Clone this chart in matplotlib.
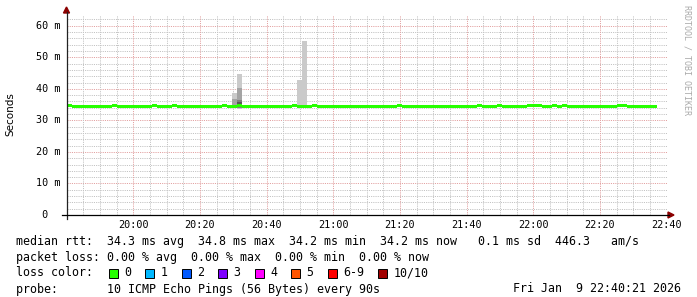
import numpy as np
import matplotlib.pyplot as plt
from matplotlib.patches import Rectangle, Polygon
from matplotlib.lines import Line2D
from matplotlib.transforms import blended_transform_factory

# --- data (ms, 90 s steps starting 19:40) ---
median = [
    34.8, 34.3, 34.3, 34.3, 34.3, 34.3, 34.3, 34.3, 34.3, 34.8,
    34.3, 34.3, 34.3, 34.3, 34.3, 34.3, 34.3, 34.8, 34.3, 34.3,
    34.3, 34.8, 34.3, 34.3, 34.3, 34.3, 34.3, 34.3, 34.3, 34.3,
    34.3, 34.8, 34.3, 34.3, 34.8, 34.3, 34.3, 34.3, 34.3, 34.3,
    34.3, 34.3, 34.3, 34.3, 34.3, 34.8, 34.3, 34.3, 34.3, 34.8,
    34.3, 34.3, 34.3, 34.3, 34.3, 34.3, 34.3, 34.3, 34.3, 34.3,
    34.3, 34.3, 34.3, 34.3, 34.3, 34.3, 34.8, 34.3, 34.3, 34.3,
    34.3, 34.3, 34.3, 34.3, 34.3, 34.3, 34.3, 34.3, 34.3, 34.3,
    34.3, 34.3, 34.8, 34.3, 34.3, 34.3, 34.8, 34.3, 34.3, 34.3,
    34.3, 34.3, 34.8, 34.8, 34.8, 34.3, 34.3, 34.8, 34.3, 34.8,
    34.3, 34.3, 34.3, 34.3, 34.3, 34.3, 34.3, 34.3, 34.3, 34.3,
    34.8, 34.8, 34.3, 34.3, 34.3, 34.3, 34.3, 34.3,
]

# sorted ping values (10 pings) for steps that show smoke
smoke_idx = [7, 28, 29, 33, 34, 46, 47, 69, 72, 84, 96]
smoke_pings = [
    [34.2, 34.2, 34.3, 34.3, 34.3, 34.3, 34.3, 34.3, 34.4, 34.9],
    [34.2, 34.2, 34.3, 34.3, 34.3, 34.3, 34.3, 34.3, 34.4, 34.9],
    [34.2, 34.2, 34.3, 34.3, 34.3, 34.3, 34.3, 34.3, 34.4, 34.9],
    [33.9, 34.0, 34.2, 34.3, 34.3, 34.3, 34.5, 35.0, 36.7, 38.8],
    [33.6, 33.8, 34.0, 34.2, 34.3, 35.3, 35.8, 36.5, 40.2, 44.7],
    [34.1, 34.2, 34.2, 34.3, 34.3, 34.3, 34.3, 34.4, 34.4, 42.8],
    [34.1, 34.2, 34.2, 34.3, 34.3, 34.3, 34.3, 34.4, 34.5, 55.2],
    [34.2, 34.2, 34.3, 34.3, 34.3, 34.3, 34.3, 34.3, 34.4, 34.9],
    [34.2, 34.2, 34.3, 34.3, 34.3, 34.3, 34.3, 34.3, 34.4, 34.9],
    [34.2, 34.2, 34.3, 34.3, 34.3, 34.3, 34.3, 34.3, 34.4, 34.9],
    [34.2, 34.2, 34.3, 34.3, 34.3, 34.3, 34.3, 34.3, 34.4, 34.9],
]

y_ticks = [0, 10, 20, 30, 40, 50, 60]
y_labels = [' 0  ', '10 m', '20 m', '30 m', '40 m', '50 m', '60 m']
x_ticks = [20, 40, 60, 80, 100, 120, 140, 160, 180]
x_labels = ['20:00', '20:20', '20:40', '21:00', '21:20', '21:40',
            '22:00', '22:20', '22:40']

legend_lines = [
    'median rtt:  34.3 ms avg  34.8 ms max  34.2 ms min  34.2 ms now   0.1 ms sd  446.3   am/s',
    'packet loss: 0.00 % avg  0.00 % max  0.00 % min  0.00 % now',
    'loss color:',
    'probe:       10 ICMP Echo Pings (56 Bytes) every 90s',
]
loss_labels = ['0', '1', '2', '3', '4', '5', '6-9', '10/10']
loss_colors = ['#26ff00', '#00b8ff', '#0059ff', '#7e00ff', '#ff00ff',
               '#ff5500', '#ff0000', '#a10000']
date_text = 'Fri Jan  9 22:40:21 2026'

STEP = 1.5  # minutes
W, H = 697, 297
MONO = 'DejaVu Sans Mono'

fig = plt.figure(figsize=(W / 100, H / 100), dpi=100)
fig.patch.set_facecolor('white')


def fx(x):
    return x / W


def fy(y):
    return 1 - y / H


ax = fig.add_axes([fx(66.5), fy(215), 600 / W, 200 / H])
ax.set_xlim(0, 180)
ax.set_ylim(0, 63.4)
ax.axis('off')

# grid
for v in range(2, 64, 2):
    major = v % 10 == 0
    ax.axhline(v, color='#e3a3a3' if major else '#c4c4c4', lw=0.72,
               dashes=(1.1, 1.1), zorder=1)
for t in range(5, 181, 5):
    major = t % 20 == 0
    ax.axvline(t, color='#e3a3a3' if major else '#c4c4c4', lw=0.72,
               dashes=(1.1, 1.1), zorder=1)

# smoke
for i, pings in zip(smoke_idx, smoke_pings):
    for k in range(5):
        g = int(190 / 5 * (4 - k) + 50)
        col = '#%02x%02x%02x' % (g, g, g)
        lo, hi = pings[k], pings[9 - k]
        if hi > lo:
            ax.bar(i * STEP, hi - lo, bottom=lo, width=STEP, align='edge',
                   color=col, lw=0, zorder=2 + k * 0.1)

# median band
med = np.array(median)
t = np.arange(len(med) + 1) * STEP
m = np.append(med, med[-1])
half = 0.47
ax.fill_between(t, m - half, m + half, step='post', color='#26ff00',
                lw=0, zorder=5)

# axes lines and arrows
red = '#8b0000'
fig.add_artist(Line2D([fx(66.5), fx(66.5)], [fy(219), fy(12)],
                      color='#222222', lw=0.9, transform=fig.transFigure))
fig.add_artist(Line2D([fx(62), fx(669)], [fy(215), fy(215)],
                      color='black', lw=0.9, transform=fig.transFigure))
fig.add_artist(Polygon([[fx(63.5), fy(13)], [fx(69.5), fy(13)], [fx(66.5), fy(7)]],
                       closed=True, color=red, transform=fig.transFigure))
fig.add_artist(Polygon([[fx(668), fy(212)], [fx(668), fy(218)], [fx(674), fy(215)]],
                       closed=True, color=red, transform=fig.transFigure))

# tick labels
ytr = blended_transform_factory(fig.transFigure, ax.transData)
for v, lab in zip(y_ticks, y_labels):
    ax.text(fx(36), v, lab, transform=ytr, ha='left', va='center',
            family=MONO, fontsize=7.3)
xtr = blended_transform_factory(ax.transData, fig.transFigure)
for v, lab in zip(x_ticks, x_labels):
    ax.text(v, fy(224.5), lab, transform=xtr, ha='center', va='center',
            family=MONO, fontsize=7.3)

fig.text(fx(10.5), fy(114), 'Seconds', rotation=90, ha='center', va='center',
         family='DejaVu Sans', fontsize=7.5)
fig.text(fx(687), fy(5), 'RRDTOOL / TOBI OETIKER', rotation=270, ha='center',
         va='top', family=MONO, fontsize=6, color='#aaaaaa')

# legend
for k, line in enumerate(legend_lines):
    fig.text(fx(16), fy(241 + 16 * k), line, ha='left', va='center',
             family=MONO, fontsize=8.4)
fig.text(fx(681), fy(289), date_text, ha='right', va='center',
         family=MONO, fontsize=8.4)

bx = 108.5
for lab, col in zip(loss_labels, loss_colors):
    fig.add_artist(Rectangle((fx(bx), fy(277.5)), 9 / W, 9 / H, facecolor=col,
                             edgecolor='black', lw=0.7, transform=fig.transFigure))
    lx = bx + 15.5
    fig.text(fx(lx), fy(273), lab, ha='left', va='center', family=MONO, fontsize=8.4)
    bx = lx + len(lab) * 7.04 + 14

fig.savefig('out.png', dpi=100, facecolor='white')
